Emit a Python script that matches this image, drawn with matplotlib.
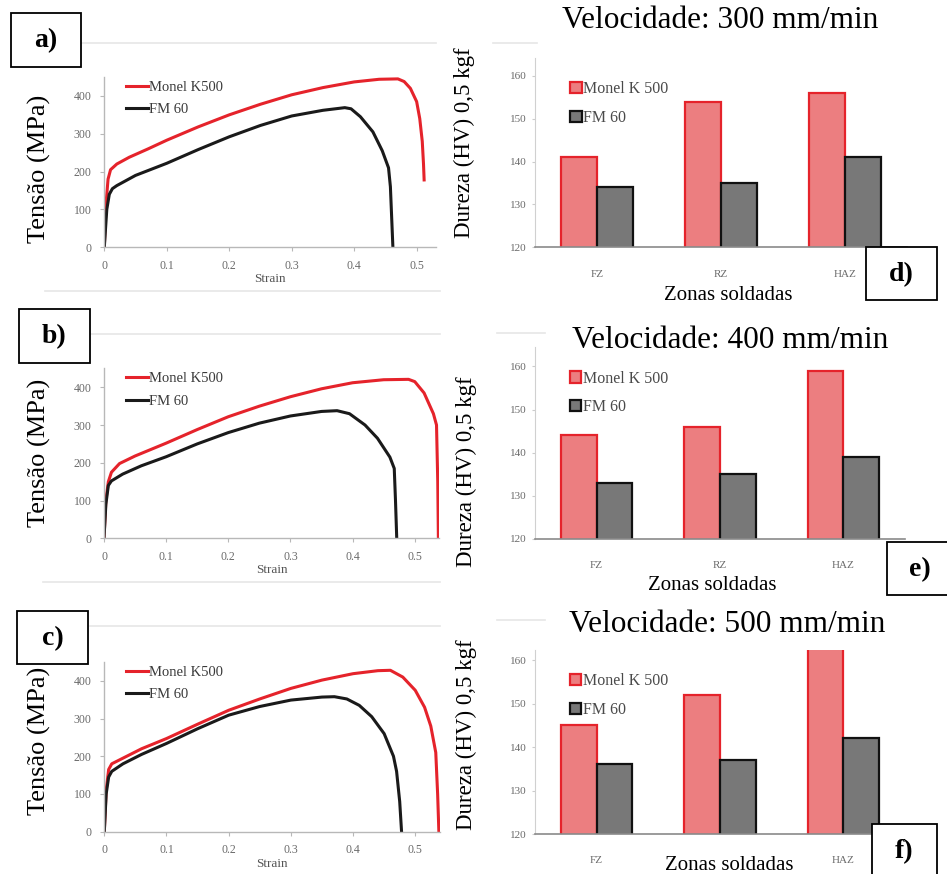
import matplotlib
matplotlib.use('Agg')
import matplotlib.pyplot as plt
from matplotlib.patches import Rectangle
from matplotlib.lines import Line2D

W, H = 947, 874
SERIF = 'Liberation Serif'
plt.rcParams['font.family'] = SERIF

# ---- tensile curves (strain, stress MPa) ----
a_red_x = [0, 0.003, 0.006, 0.01, 0.02, 0.04, 0.07, 0.1, 0.15, 0.2, 0.25, 0.3, 0.35, 0.4, 0.44, 0.47, 0.48, 0.49, 0.5, 0.505, 0.509, 0.511, 0.512]
a_red_y = [0, 120, 180, 205, 220, 238, 260, 283, 318, 350, 378, 403, 422, 437, 444, 445, 438, 420, 385, 340, 280, 220, 178]
a_blk_x = [0, 0.004, 0.008, 0.013, 0.02, 0.05, 0.1, 0.15, 0.2, 0.25, 0.3, 0.35, 0.385, 0.395, 0.41, 0.43, 0.445, 0.455, 0.458, 0.46, 0.462]
a_blk_y = [0, 100, 140, 155, 163, 190, 222, 258, 292, 322, 347, 362, 369, 366, 345, 305, 255, 210, 160, 80, 0]

b_red_x = [0, 0.003, 0.007, 0.012, 0.025, 0.05, 0.1, 0.15, 0.2, 0.25, 0.3, 0.35, 0.4, 0.45, 0.49, 0.5, 0.515, 0.53, 0.535, 0.537, 0.538]
b_red_y = [0, 100, 150, 175, 198, 218, 252, 288, 322, 350, 375, 396, 412, 420, 421, 415, 385, 330, 300, 150, 0]
b_blk_x = [0, 0.003, 0.007, 0.012, 0.03, 0.06, 0.1, 0.15, 0.2, 0.25, 0.3, 0.35, 0.375, 0.395, 0.42, 0.44, 0.46, 0.467, 0.469, 0.471]
b_blk_y = [0, 90, 140, 152, 170, 192, 216, 250, 280, 305, 324, 336, 338, 330, 300, 265, 215, 185, 100, 0]

c_red_x = [0, 0.003, 0.007, 0.012, 0.03, 0.06, 0.1, 0.15, 0.2, 0.25, 0.3, 0.35, 0.4, 0.44, 0.46, 0.48, 0.5, 0.515, 0.525, 0.533, 0.536, 0.538]
c_red_y = [0, 110, 165, 180, 195, 220, 247, 285, 322, 352, 380, 402, 419, 427, 428, 410, 375, 330, 280, 210, 100, 0]
c_blk_x = [0, 0.003, 0.007, 0.012, 0.03, 0.06, 0.1, 0.15, 0.2, 0.25, 0.3, 0.35, 0.37, 0.39, 0.41, 0.43, 0.45, 0.465, 0.47, 0.475, 0.478]
c_blk_y = [0, 100, 145, 160, 180, 205, 234, 273, 309, 332, 349, 357, 358, 352, 335, 305, 260, 200, 160, 80, 0]

strain_ticks = [0, 0.1, 0.2, 0.3, 0.4, 0.5]
strain_labels = ['0', '0.1', '0.2', '0.3', '0.4', '0.5']
stress_ticks = [0, 100, 200, 300, 400]

# ---- hardness bars ----
zones = ['FZ', 'RZ', 'HAZ']
zones_f = ['FZ', '', 'HAZ']  # RZ label hidden under the axis title in panel f
d_monel = [141, 154, 156]
d_fm60 = [134, 135, 141]
e_monel = [144, 146, 159]
e_fm60 = [133, 135, 139]
f_monel = [145, 152, 165]
f_fm60 = [136, 137, 142]
hv_ticks = [120, 130, 140, 150, 160]
speeds = ['Velocidade: 300 mm/min', 'Velocidade: 400 mm/min', 'Velocidade: 500 mm/min']

RED = '#E5232B'
RED_FILL = '#EC7E80'
GRAY_FILL = '#787878'
TICK_C = '#6a6a6a'
SPINE_C = '#b8b8b8'


def px_axes(fig, x0, y0, x1, y1):
    return fig.add_axes([x0 / W, 1 - y1 / H, (x1 - x0) / W, (y1 - y0) / H])


def ftext(fig, x, y, s, **kw):
    return fig.text(x / W, 1 - y / H, s, **kw)


def label_box(fig, x0, y0, x1, y1, s):
    fig.patches.append(Rectangle((x0 / W, 1 - y1 / H), (x1 - x0) / W, (y1 - y0) / H,
                                 transform=fig.transFigure, fc='white', ec='black', lw=1.3,
                                 clip_on=False, zorder=5))
    ftext(fig, (x0 + x1) / 2, (y0 + y1) / 2 + 1, s, ha='center', va='center',
          fontsize=20, fontweight='bold', family=SERIF, zorder=6)


def hline(fig, y, x0, x1):
    fig.lines.append(Line2D([x0 / W, x1 / W], [1 - y / H, 1 - y / H], transform=fig.transFigure,
                            color='#e6e6e6', lw=1.2))


def tensile(ax, rx, ry, bx, by, xmax):
    ax.plot(rx, ry, color=RED, lw=2.2, label='Monel K500', solid_joinstyle='round')
    ax.plot(bx, by, color='#1a1a1a', lw=2.2, label='FM 60', solid_joinstyle='round')
    ax.set_xlim(0, xmax)
    ax.set_ylim(0, 450)
    ax.set_xticks(strain_ticks)
    ax.set_xticklabels(strain_labels)
    ax.set_yticks(stress_ticks)
    for s in ['top', 'right']:
        ax.spines[s].set_visible(False)
    for s in ['left', 'bottom']:
        ax.spines[s].set_color(SPINE_C)
        ax.spines[s].set_linewidth(1.0)
    ax.tick_params(labelsize=8.5, colors=SPINE_C, labelcolor=TICK_C, length=3, width=0.8, pad=6)
    ax.set_xlabel('Strain', fontsize=9.5, color='#555555', labelpad=1)
    ax.patch.set_alpha(0)
    leg = ax.legend(loc='upper left', bbox_to_anchor=(0.035, 1.04), frameon=False, fontsize=10.5,
                    handlelength=1.5, handletextpad=0.05, labelspacing=0.65, borderpad=0.2)
    for t in leg.get_texts():
        t.set_color('#3a3a3a')


def bars(ax, monel, fm, ytop, labels):
    xs = list(range(len(zones)))
    w = 0.29
    ax.bar([x - w / 2 for x in xs], monel, w, color=RED_FILL, edgecolor=RED, lw=1.6,
           label='Monel K 500')
    ax.bar([x + w / 2 for x in xs], fm, w, color=GRAY_FILL, edgecolor='#111111', lw=1.6,
           label='FM 60')
    ax.set_xlim(-0.5, 2.5)
    ax.set_ylim(120, ytop)
    ax.set_xticks(xs)
    ax.set_xticklabels(labels)
    ax.set_yticks(hv_ticks)
    for s in ['top', 'right']:
        ax.spines[s].set_visible(False)
    ax.spines['left'].set_color('#d0d0d0')
    ax.spines['bottom'].set_color('#8a8a8a')
    ax.spines['bottom'].set_linewidth(1.2)
    ax.tick_params(axis='x', length=0, labelsize=8, labelcolor=TICK_C, pad=16)
    ax.tick_params(axis='y', length=2, colors='#cccccc', labelsize=8, labelcolor=TICK_C, pad=4)
    ax.patch.set_alpha(0)
    leg = ax.legend(loc='upper left', bbox_to_anchor=(0.065, 0.935), frameon=False, fontsize=11.5,
                    handlelength=0.7, handleheight=0.7, handletextpad=0.1, labelspacing=0.8,
                    borderpad=0.2)
    for t in leg.get_texts():
        t.set_color('#4a4a4a')


fig = plt.figure(figsize=(W / 100, H / 100), dpi=100)

# faint frame remnants of the original screenshots
hline(fig, 43, 80, 436)
hline(fig, 291, 45, 440)
hline(fig, 334, 90, 440)
hline(fig, 582, 43, 440)
hline(fig, 626, 90, 440)
hline(fig, 43, 493, 537)
hline(fig, 333, 497, 545)
hline(fig, 620, 497, 545)

# left column: tensile curves
ax_a = px_axes(fig, 104.3, 77, 436, 247.3)
tensile(ax_a, a_red_x, a_red_y, a_blk_x, a_blk_y, 0.531)
ax_b = px_axes(fig, 104, 368.4, 439, 538.3)
tensile(ax_b, b_red_x, b_red_y, b_blk_x, b_blk_y, 0.539)
ax_c = px_axes(fig, 104.3, 662, 439.5, 831.7)
tensile(ax_c, c_red_x, c_red_y, c_blk_x, c_blk_y, 0.539)

for yc in [169, 453, 741]:
    ftext(fig, 39, yc, 'Tensão (MPa)', rotation=90, ha='center', va='center', fontsize=19)

# right column: hardness
ax_d = px_axes(fig, 535, 58, 906.7, 247.3)
bars(ax_d, d_monel, d_fm60, 164.2, zones)
ax_e = px_axes(fig, 535, 347, 905, 539)
bars(ax_e, e_monel, e_fm60, 164.5, zones)
ax_f = px_axes(fig, 535, 650, 905, 834)
bars(ax_f, f_monel, f_fm60, 162.3, zones_f)

for (xc, yc) in [(464, 143), (466, 472), (466, 735)]:
    ftext(fig, xc, yc, 'Dureza (HV) 0,5 kgf', rotation=90, ha='center', va='center', fontsize=16.5)
for s, (xc, yc) in zip(speeds, [(720, 20), (730, 341), (727, 625)]):
    ftext(fig, xc, yc, s, ha='center', va='center', fontsize=22.5)
for (xc, yc) in [(728, 296), (712, 585), (729, 866)]:
    ftext(fig, xc, yc, 'Zonas soldadas', ha='center', va='center', fontsize=15, zorder=4,
          bbox=dict(fc='white', ec='none', pad=1))

label_box(fig, 11, 13, 81, 67, 'a)')
label_box(fig, 19, 309, 90, 363, 'b)')
label_box(fig, 17, 611, 88, 664, 'c)')
label_box(fig, 866, 247, 937, 300, 'd)')
label_box(fig, 887, 542, 952, 595, 'e)')
label_box(fig, 872, 824, 937, 878, 'f)')

fig.savefig('out.png', dpi=100)
